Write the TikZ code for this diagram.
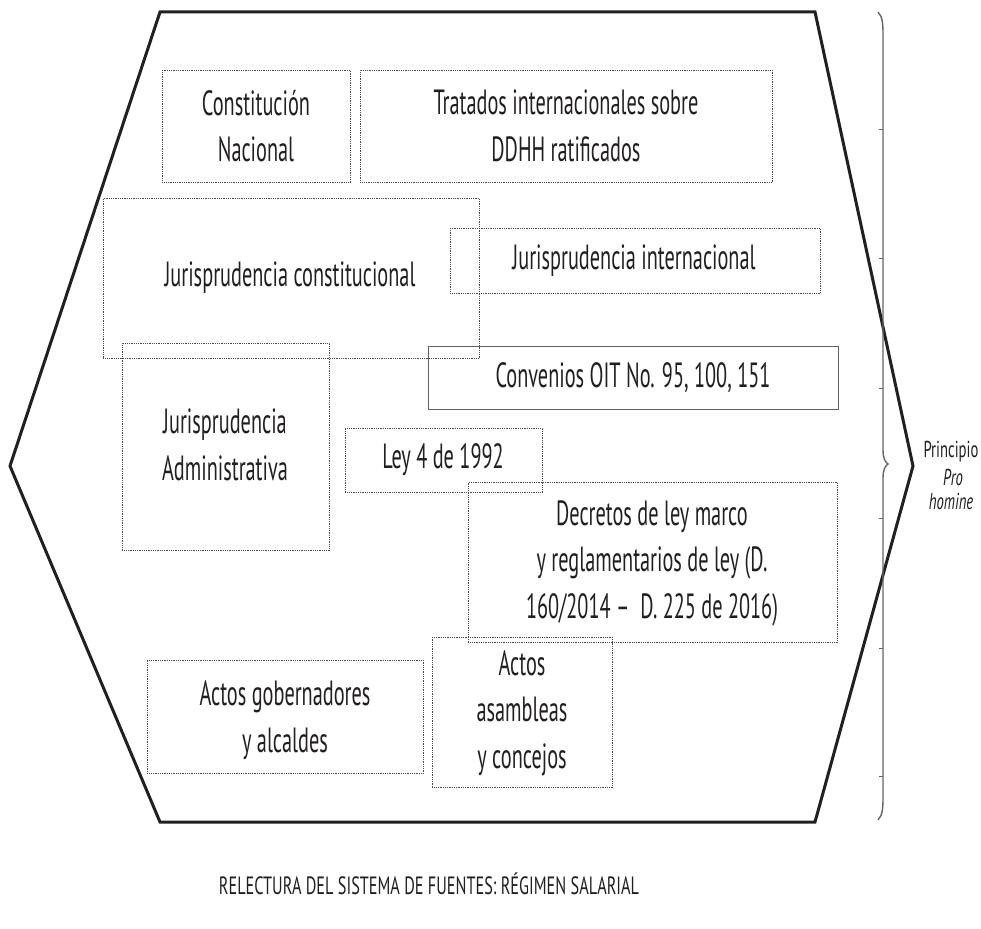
\documentclass[tikz,border=0pt]{standalone}
\usepackage{fontspec}
\usepackage{graphicx}
\setmainfont[FakeStretch=0.58]{PT Sans}
\definecolor{ink}{HTML}{231F20}
\definecolor{boxline}{HTML}{4A4A4A}
\begin{document}
\begin{tikzpicture}[x=1pt,y=-1pt,
  hexline/.style={draw=ink,line width=3pt,line join=miter},
  dotbox/.style={draw=boxline,line width=0.9pt,dash pattern=on 0.9pt off 0.9pt,inner sep=0pt,anchor=north west},
  solidbox/.style={draw=gray!75!black,line width=1.3pt,inner sep=0pt,anchor=north west},
  txt/.style={text=ink,align=center,inner sep=0pt,font=\fontsize{35}{46.5}\selectfont},
  side/.style={text=ink,inner sep=0pt,font=\fontsize{23}{24}\selectfont},
  bracestyle/.style={draw=gray!80!black,line width=1.4pt}]
\useasboundingbox (0,0) rectangle (981,928);
% hexagon
\coordinate (h1) at (160,12);
\coordinate (h2) at (815,12);
\coordinate (h3) at (913,466);
\coordinate (h4) at (815,822);
\coordinate (h5) at (160,822);
\coordinate (h6) at (10,466);
\draw[hexline] (h1) -- (h2) -- (h3) -- (h4) -- (h5) -- (h6) -- cycle;
% boxes
\node[dotbox,minimum width=188pt,minimum height=112pt] (b1) at (162,70) {};
\node[dotbox,minimum width=412pt,minimum height=112pt] (b2) at (360,70) {};
\node[dotbox,minimum width=376pt,minimum height=160pt] (b3) at (103,198) {};
\node[dotbox,minimum width=370pt,minimum height=65pt] (b4) at (450,228) {};
\node[solidbox,minimum width=410pt,minimum height=63pt] (b5) at (428,346) {};
\node[dotbox,minimum width=207pt,minimum height=207pt] (b6) at (122,343) {};
\node[dotbox,minimum width=197pt,minimum height=64pt] (b7) at (345,428) {};
\node[dotbox,minimum width=369pt,minimum height=160pt] (b8) at (468,482) {};
\node[dotbox,minimum width=276pt,minimum height=113pt] (b9) at (147,660) {};
\node[dotbox,minimum width=180pt,minimum height=150pt] (b10) at (432,637) {};
% texts
\node[txt] (t1) at (256,126) {Constitución\\Nacional};
\node[txt] (t2) at (566,126) {Tratados internacionales sobre\\DDHH ratificados};
\node[txt] (t3) at (290,278) {Jurisprudencia constitucional};
\node[txt] (t4) at (634,261) {Jurisprudencia internacional};
\node[txt] (t5) at (633,378) {Convenios OIT No. 95, 100, 151};
\node[txt] (t6) at (225,445) {Jurisprudencia\\Administrativa};
\node[txt] (t7) at (443,460) {Ley 4 de 1992};
\node[txt] (t8) at (652,563) {Decretos de ley marco\\y reglamentarios de ley (D.\\160/2014 –\ \ D. 225 de 2016)};
\node[txt] (t9) at (285,720) {Actos gobernadores\\y alcaldes};
\node[txt] (t10) at (522,713) {Actos\\asambleas\\y concejos};
% brace
\coordinate (r1) at (878,12);
\coordinate (r2) at (883,450);
\coordinate (rt) at (888,464);
\coordinate (r3) at (883,478);
\coordinate (r4) at (878,820);
\draw[bracestyle] (r1) .. controls (883,17) and (883,25) .. (883,38) -- (r2) .. controls (883,458) and (885,462) .. (rt) .. controls (885,466) and (883,470) .. (r3) -- (883,794) .. controls (883,807) and (883,815) .. (r4);
\foreach \yy in {130,258,388,518,648,776} {\draw[draw=gray!80!black,line width=1pt] (879,\yy) -- (883,\yy);}
\node[side] (pp1) at (951,452) {\scalebox{1.1}[1]{Principio}};
\node[side] (pp2) at (953,477) {\scalebox{1.1}[1]{\textit{Pro}}};
\node[side] (pp3) at (951,501) {\scalebox{1.1}[1]{\textit{homine}}};
% title
\node[text=ink,inner sep=0pt,font=\fontsize{25}{28}\selectfont] (title) at (429,884) {\scalebox{1.12}[1]{RELECTURA DEL SISTEMA DE FUENTES: RÉGIMEN SALARIAL}};
\end{tikzpicture}
\end{document}
